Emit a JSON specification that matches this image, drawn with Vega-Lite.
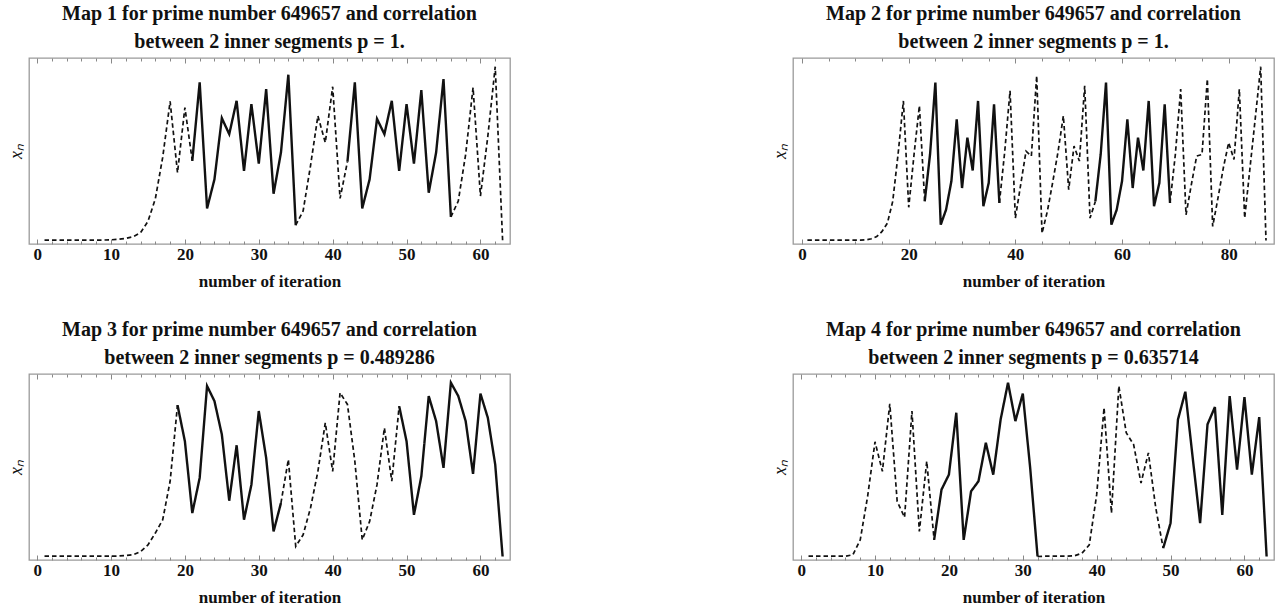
{
  "$schema": "https://vega.github.io/schema/vega-lite/v6.json",
  "padding": {"left": 6, "top": 2, "right": 4, "bottom": 0},
  "background": "white",
  "columns": 2,
  "spacing": {"row": 28, "column": 259},
  "datasets": {
    "m1": [
      {"n":1,"v":0.002,"s":1,"k":"dashed"},{"n":2,"v":0.002,"s":1,"k":"dashed"},{"n":3,"v":0.002,"s":1,"k":"dashed"},{"n":4,"v":0.002,"s":1,"k":"dashed"},{"n":5,"v":0.002,"s":1,"k":"dashed"},{"n":6,"v":0.002,"s":1,"k":"dashed"},{"n":7,"v":0.002,"s":1,"k":"dashed"},{"n":8,"v":0.002,"s":1,"k":"dashed"},{"n":9,"v":0.003,"s":1,"k":"dashed"},{"n":10,"v":0.004,"s":1,"k":"dashed"},{"n":11,"v":0.007,"s":1,"k":"dashed"},{"n":12,"v":0.012,"s":1,"k":"dashed"},{"n":13,"v":0.022,"s":1,"k":"dashed"},{"n":14,"v":0.045,"s":1,"k":"dashed"},{"n":15,"v":0.11,"s":1,"k":"dashed"},{"n":16,"v":0.24,"s":1,"k":"dashed"},{"n":17,"v":0.48,"s":1,"k":"dashed"},{"n":18,"v":0.8,"s":1,"k":"dashed"},{"n":19,"v":0.39,"s":1,"k":"dashed"},{"n":20,"v":0.765,"s":1,"k":"dashed"},{"n":21,"v":0.458,"s":1,"k":"dashed"},
      {"n":21,"v":0.458,"s":2,"k":"solid"},{"n":22,"v":0.91,"s":2,"k":"solid"},{"n":23,"v":0.185,"s":2,"k":"solid"},{"n":24,"v":0.352,"s":2,"k":"solid"},{"n":25,"v":0.704,"s":2,"k":"solid"},{"n":26,"v":0.612,"s":2,"k":"solid"},{"n":27,"v":0.804,"s":2,"k":"solid"},{"n":28,"v":0.4,"s":2,"k":"solid"},{"n":29,"v":0.785,"s":2,"k":"solid"},{"n":30,"v":0.442,"s":2,"k":"solid"},{"n":31,"v":0.871,"s":2,"k":"solid"},{"n":32,"v":0.269,"s":2,"k":"solid"},{"n":33,"v":0.506,"s":2,"k":"solid"},{"n":34,"v":0.954,"s":2,"k":"solid"},{"n":35,"v":0.088,"s":2,"k":"solid"},
      {"n":35,"v":0.088,"s":3,"k":"dashed"},{"n":36,"v":0.17,"s":3,"k":"dashed"},{"n":37,"v":0.43,"s":3,"k":"dashed"},{"n":38,"v":0.717,"s":3,"k":"dashed"},{"n":39,"v":0.563,"s":3,"k":"dashed"},{"n":40,"v":0.885,"s":3,"k":"dashed"},{"n":41,"v":0.242,"s":3,"k":"dashed"},{"n":42,"v":0.454,"s":3,"k":"dashed"},
      {"n":42,"v":0.454,"s":4,"k":"solid"},{"n":43,"v":0.91,"s":4,"k":"solid"},{"n":44,"v":0.185,"s":4,"k":"solid"},{"n":45,"v":0.352,"s":4,"k":"solid"},{"n":46,"v":0.7,"s":4,"k":"solid"},{"n":47,"v":0.612,"s":4,"k":"solid"},{"n":48,"v":0.804,"s":4,"k":"solid"},{"n":49,"v":0.4,"s":4,"k":"solid"},{"n":50,"v":0.785,"s":4,"k":"solid"},{"n":51,"v":0.442,"s":4,"k":"solid"},{"n":52,"v":0.865,"s":4,"k":"solid"},{"n":53,"v":0.275,"s":4,"k":"solid"},{"n":54,"v":0.506,"s":4,"k":"solid"},{"n":55,"v":0.929,"s":4,"k":"solid"},{"n":56,"v":0.136,"s":4,"k":"solid"},
      {"n":56,"v":0.136,"s":5,"k":"dashed"},{"n":57,"v":0.227,"s":5,"k":"dashed"},{"n":58,"v":0.496,"s":5,"k":"dashed"},{"n":59,"v":0.88,"s":5,"k":"dashed"},{"n":60,"v":0.256,"s":5,"k":"dashed"},{"n":61,"v":0.6,"s":5,"k":"dashed"},{"n":62,"v":1.0,"s":5,"k":"dashed"},{"n":63,"v":0.0,"s":5,"k":"dashed"}
    ],
    "m2": [
      {"n":1,"v":0.002,"s":1,"k":"dashed"},{"n":2,"v":0.002,"s":1,"k":"dashed"},{"n":3,"v":0.002,"s":1,"k":"dashed"},{"n":4,"v":0.002,"s":1,"k":"dashed"},{"n":5,"v":0.002,"s":1,"k":"dashed"},{"n":6,"v":0.002,"s":1,"k":"dashed"},{"n":7,"v":0.002,"s":1,"k":"dashed"},{"n":8,"v":0.002,"s":1,"k":"dashed"},{"n":9,"v":0.002,"s":1,"k":"dashed"},{"n":10,"v":0.002,"s":1,"k":"dashed"},{"n":11,"v":0.002,"s":1,"k":"dashed"},{"n":12,"v":0.004,"s":1,"k":"dashed"},{"n":13,"v":0.01,"s":1,"k":"dashed"},{"n":14,"v":0.023,"s":1,"k":"dashed"},{"n":15,"v":0.052,"s":1,"k":"dashed"},{"n":16,"v":0.1,"s":1,"k":"dashed"},{"n":17,"v":0.225,"s":1,"k":"dashed"},{"n":18,"v":0.495,"s":1,"k":"dashed"},{"n":19,"v":0.803,"s":1,"k":"dashed"},{"n":20,"v":0.191,"s":1,"k":"dashed"},{"n":21,"v":0.495,"s":1,"k":"dashed"},{"n":22,"v":0.775,"s":1,"k":"dashed"},{"n":23,"v":0.225,"s":1,"k":"dashed"},
      {"n":23,"v":0.225,"s":2,"k":"solid"},{"n":24,"v":0.495,"s":2,"k":"solid"},{"n":25,"v":0.909,"s":2,"k":"solid"},{"n":26,"v":0.091,"s":2,"k":"solid"},{"n":27,"v":0.177,"s":2,"k":"solid"},{"n":28,"v":0.341,"s":2,"k":"solid"},{"n":29,"v":0.697,"s":2,"k":"solid"},{"n":30,"v":0.302,"s":2,"k":"solid"},{"n":31,"v":0.592,"s":2,"k":"solid"},{"n":32,"v":0.403,"s":2,"k":"solid"},{"n":33,"v":0.803,"s":2,"k":"solid"},{"n":34,"v":0.197,"s":2,"k":"solid"},{"n":35,"v":0.331,"s":2,"k":"solid"},{"n":36,"v":0.784,"s":2,"k":"solid"},{"n":37,"v":0.216,"s":2,"k":"solid"},
      {"n":37,"v":0.216,"s":3,"k":"dashed"},{"n":38,"v":0.51,"s":3,"k":"dashed"},{"n":39,"v":0.861,"s":3,"k":"dashed"},{"n":40,"v":0.129,"s":3,"k":"dashed"},{"n":41,"v":0.322,"s":3,"k":"dashed"},{"n":42,"v":0.514,"s":3,"k":"dashed"},{"n":43,"v":0.486,"s":3,"k":"dashed"},{"n":44,"v":0.948,"s":3,"k":"dashed"},{"n":45,"v":0.042,"s":3,"k":"dashed"},{"n":46,"v":0.168,"s":3,"k":"dashed"},{"n":47,"v":0.335,"s":3,"k":"dashed"},{"n":48,"v":0.51,"s":3,"k":"dashed"},{"n":49,"v":0.717,"s":3,"k":"dashed"},{"n":50,"v":0.293,"s":3,"k":"dashed"},{"n":51,"v":0.543,"s":3,"k":"dashed"},{"n":52,"v":0.457,"s":3,"k":"dashed"},{"n":53,"v":0.89,"s":3,"k":"dashed"},{"n":54,"v":0.129,"s":3,"k":"dashed"},{"n":55,"v":0.225,"s":3,"k":"dashed"},
      {"n":55,"v":0.225,"s":4,"k":"solid"},{"n":56,"v":0.495,"s":4,"k":"solid"},{"n":57,"v":0.909,"s":4,"k":"solid"},{"n":58,"v":0.091,"s":4,"k":"solid"},{"n":59,"v":0.177,"s":4,"k":"solid"},{"n":60,"v":0.341,"s":4,"k":"solid"},{"n":61,"v":0.697,"s":4,"k":"solid"},{"n":62,"v":0.302,"s":4,"k":"solid"},{"n":63,"v":0.592,"s":4,"k":"solid"},{"n":64,"v":0.403,"s":4,"k":"solid"},{"n":65,"v":0.803,"s":4,"k":"solid"},{"n":66,"v":0.197,"s":4,"k":"solid"},{"n":67,"v":0.331,"s":4,"k":"solid"},{"n":68,"v":0.784,"s":4,"k":"solid"},{"n":69,"v":0.216,"s":4,"k":"solid"},
      {"n":69,"v":0.216,"s":5,"k":"dashed"},{"n":70,"v":0.495,"s":5,"k":"dashed"},{"n":71,"v":0.871,"s":5,"k":"dashed"},{"n":72,"v":0.148,"s":5,"k":"dashed"},{"n":73,"v":0.322,"s":5,"k":"dashed"},{"n":74,"v":0.486,"s":5,"k":"dashed"},{"n":75,"v":0.495,"s":5,"k":"dashed"},{"n":76,"v":0.929,"s":5,"k":"dashed"},{"n":77,"v":0.081,"s":5,"k":"dashed"},{"n":78,"v":0.245,"s":5,"k":"dashed"},{"n":79,"v":0.418,"s":5,"k":"dashed"},{"n":80,"v":0.563,"s":5,"k":"dashed"},{"n":81,"v":0.466,"s":5,"k":"dashed"},{"n":82,"v":0.871,"s":5,"k":"dashed"},{"n":83,"v":0.129,"s":5,"k":"dashed"},{"n":84,"v":0.418,"s":5,"k":"dashed"},{"n":85,"v":0.707,"s":5,"k":"dashed"},{"n":86,"v":1.0,"s":5,"k":"dashed"},{"n":87,"v":0.0,"s":5,"k":"dashed"}
    ],
    "m3": [
      {"n":1,"v":0.002,"s":1,"k":"dashed"},{"n":2,"v":0.002,"s":1,"k":"dashed"},{"n":3,"v":0.002,"s":1,"k":"dashed"},{"n":4,"v":0.002,"s":1,"k":"dashed"},{"n":5,"v":0.002,"s":1,"k":"dashed"},{"n":6,"v":0.002,"s":1,"k":"dashed"},{"n":7,"v":0.002,"s":1,"k":"dashed"},{"n":8,"v":0.002,"s":1,"k":"dashed"},{"n":9,"v":0.002,"s":1,"k":"dashed"},{"n":10,"v":0.002,"s":1,"k":"dashed"},{"n":11,"v":0.003,"s":1,"k":"dashed"},{"n":12,"v":0.006,"s":1,"k":"dashed"},{"n":13,"v":0.01,"s":1,"k":"dashed"},{"n":14,"v":0.029,"s":1,"k":"dashed"},{"n":15,"v":0.067,"s":1,"k":"dashed"},{"n":16,"v":0.135,"s":1,"k":"dashed"},{"n":17,"v":0.212,"s":1,"k":"dashed"},{"n":18,"v":0.433,"s":1,"k":"dashed"},{"n":19,"v":0.871,"s":1,"k":"dashed"},
      {"n":19,"v":0.871,"s":2,"k":"solid"},{"n":20,"v":0.663,"s":2,"k":"solid"},{"n":21,"v":0.25,"s":2,"k":"solid"},{"n":22,"v":0.452,"s":2,"k":"solid"},{"n":23,"v":0.981,"s":2,"k":"solid"},{"n":24,"v":0.894,"s":2,"k":"solid"},{"n":25,"v":0.702,"s":2,"k":"solid"},{"n":26,"v":0.321,"s":2,"k":"solid"},{"n":27,"v":0.64,"s":2,"k":"solid"},{"n":28,"v":0.212,"s":2,"k":"solid"},{"n":29,"v":0.413,"s":2,"k":"solid"},{"n":30,"v":0.837,"s":2,"k":"solid"},{"n":31,"v":0.567,"s":2,"k":"solid"},{"n":32,"v":0.144,"s":2,"k":"solid"},{"n":33,"v":0.308,"s":2,"k":"solid"},
      {"n":33,"v":0.308,"s":3,"k":"dashed"},{"n":34,"v":0.558,"s":3,"k":"dashed"},{"n":35,"v":0.058,"s":3,"k":"dashed"},{"n":36,"v":0.125,"s":3,"k":"dashed"},{"n":37,"v":0.279,"s":3,"k":"dashed"},{"n":38,"v":0.49,"s":3,"k":"dashed"},{"n":39,"v":0.769,"s":3,"k":"dashed"},{"n":40,"v":0.49,"s":3,"k":"dashed"},{"n":41,"v":0.942,"s":3,"k":"dashed"},{"n":42,"v":0.875,"s":3,"k":"dashed"},{"n":43,"v":0.548,"s":3,"k":"dashed"},{"n":44,"v":0.096,"s":3,"k":"dashed"},{"n":45,"v":0.202,"s":3,"k":"dashed"},{"n":46,"v":0.413,"s":3,"k":"dashed"},{"n":47,"v":0.74,"s":3,"k":"dashed"},{"n":48,"v":0.433,"s":3,"k":"dashed"},{"n":49,"v":0.865,"s":3,"k":"dashed"},
      {"n":49,"v":0.865,"s":4,"k":"solid"},{"n":50,"v":0.663,"s":4,"k":"solid"},{"n":51,"v":0.24,"s":4,"k":"solid"},{"n":52,"v":0.462,"s":4,"k":"solid"},{"n":53,"v":0.923,"s":4,"k":"solid"},{"n":54,"v":0.779,"s":4,"k":"solid"},{"n":55,"v":0.51,"s":4,"k":"solid"},{"n":56,"v":1.0,"s":4,"k":"solid"},{"n":57,"v":0.923,"s":4,"k":"solid"},{"n":58,"v":0.779,"s":4,"k":"solid"},{"n":59,"v":0.475,"s":4,"k":"solid"},{"n":60,"v":0.937,"s":4,"k":"solid"},{"n":61,"v":0.798,"s":4,"k":"solid"},{"n":62,"v":0.529,"s":4,"k":"solid"},{"n":63,"v":0.0,"s":4,"k":"solid"}
    ],
    "m4": [
      {"n":1,"v":0.002,"s":1,"k":"dashed"},{"n":2,"v":0.002,"s":1,"k":"dashed"},{"n":3,"v":0.002,"s":1,"k":"dashed"},{"n":4,"v":0.002,"s":1,"k":"dashed"},{"n":5,"v":0.002,"s":1,"k":"dashed"},{"n":6,"v":0.002,"s":1,"k":"dashed"},{"n":7,"v":0.01,"s":1,"k":"dashed"},{"n":8,"v":0.096,"s":1,"k":"dashed"},{"n":9,"v":0.346,"s":1,"k":"dashed"},{"n":10,"v":0.66,"s":1,"k":"dashed"},{"n":11,"v":0.49,"s":1,"k":"dashed"},{"n":12,"v":0.879,"s":1,"k":"dashed"},{"n":13,"v":0.317,"s":1,"k":"dashed"},{"n":14,"v":0.225,"s":1,"k":"dashed"},{"n":15,"v":0.837,"s":1,"k":"dashed"},{"n":16,"v":0.144,"s":1,"k":"dashed"},{"n":17,"v":0.548,"s":1,"k":"dashed"},{"n":18,"v":0.096,"s":1,"k":"dashed"},
      {"n":18,"v":0.096,"s":2,"k":"solid"},{"n":19,"v":0.385,"s":2,"k":"solid"},{"n":20,"v":0.471,"s":2,"k":"solid"},{"n":21,"v":0.827,"s":2,"k":"solid"},{"n":22,"v":0.096,"s":2,"k":"solid"},{"n":23,"v":0.375,"s":2,"k":"solid"},{"n":24,"v":0.433,"s":2,"k":"solid"},{"n":25,"v":0.654,"s":2,"k":"solid"},{"n":26,"v":0.471,"s":2,"k":"solid"},{"n":27,"v":0.788,"s":2,"k":"solid"},{"n":28,"v":1.0,"s":2,"k":"solid"},{"n":29,"v":0.779,"s":2,"k":"solid"},{"n":30,"v":0.937,"s":2,"k":"solid"},{"n":31,"v":0.51,"s":2,"k":"solid"},{"n":32,"v":0.0,"s":2,"k":"solid"},
      {"n":32,"v":0.0,"s":3,"k":"dashed"},{"n":33,"v":0.002,"s":3,"k":"dashed"},{"n":34,"v":0.002,"s":3,"k":"dashed"},{"n":35,"v":0.002,"s":3,"k":"dashed"},{"n":36,"v":0.002,"s":3,"k":"dashed"},{"n":37,"v":0.004,"s":3,"k":"dashed"},{"n":38,"v":0.019,"s":3,"k":"dashed"},{"n":39,"v":0.067,"s":3,"k":"dashed"},{"n":40,"v":0.356,"s":3,"k":"dashed"},{"n":41,"v":0.856,"s":3,"k":"dashed"},{"n":42,"v":0.25,"s":3,"k":"dashed"},{"n":43,"v":0.981,"s":3,"k":"dashed"},{"n":44,"v":0.712,"s":3,"k":"dashed"},{"n":45,"v":0.644,"s":3,"k":"dashed"},{"n":46,"v":0.423,"s":3,"k":"dashed"},{"n":47,"v":0.596,"s":3,"k":"dashed"},{"n":48,"v":0.279,"s":3,"k":"dashed"},{"n":49,"v":0.048,"s":3,"k":"dashed"},
      {"n":49,"v":0.048,"s":4,"k":"solid"},{"n":50,"v":0.192,"s":4,"k":"solid"},{"n":51,"v":0.788,"s":4,"k":"solid"},{"n":52,"v":0.948,"s":4,"k":"solid"},{"n":53,"v":0.567,"s":4,"k":"solid"},{"n":54,"v":0.192,"s":4,"k":"solid"},{"n":55,"v":0.76,"s":4,"k":"solid"},{"n":56,"v":0.86,"s":4,"k":"solid"},{"n":57,"v":0.24,"s":4,"k":"solid"},{"n":58,"v":0.923,"s":4,"k":"solid"},{"n":59,"v":0.5,"s":4,"k":"solid"},{"n":60,"v":0.917,"s":4,"k":"solid"},{"n":61,"v":0.471,"s":4,"k":"solid"},{"n":62,"v":0.802,"s":4,"k":"solid"},{"n":63,"v":0.0,"s":4,"k":"solid"}
    ]
  },
  "concat": [
    {
      "width": 481, "height": 186,
      "title": {"text": ["Map 1 for prime number 649657 and correlation", "between 2 inner segments p = 1."]},
      "data": {"name": "m1"},
      "layer": [
        {
          "mark": {"type": "line", "color": "#111"},
          "encoding": {
            "x": {"field": "n", "type": "quantitative", "scale": {"domain": [-1.1, 64], "nice": false, "zero": false},
                  "axis": {"orient": "bottom", "title": "number of iteration", "values": [0,2,4,6,8,10,12,14,16,18,20,22,24,26,28,30,32,34,36,38,40,42,44,46,48,50,52,54,56,58,60,62],
                           "labelExpr": "datum.value % 10 === 0 ? datum.label : ''",
                           "tickSize": {"condition": {"test": "datum.value % 10 === 0", "value": -5}, "value": -3}}},
            "y": {"field": "v", "type": "quantitative", "scale": {"domain": [-0.02, 1.05], "nice": false, "zero": false},
                  "axis": {"title": "xₙ", "labels": false, "ticks": false}},
            "detail": {"field": "s"},
            "strokeDash": {"field": "k", "type": "nominal", "scale": {"domain": ["dashed", "solid"], "range": [[4.5, 3], [1, 0]]}, "legend": null},
            "strokeWidth": {"field": "k", "type": "nominal", "scale": {"domain": ["dashed", "solid"], "range": [1.7, 2.4]}, "legend": null}
          }
        },
        {
          "mark": {"type": "point", "opacity": 0},
          "encoding": {
            "x": {"field": "n", "type": "quantitative",
                  "axis": {"orient": "top", "title": null, "labels": false, "values": [0,2,4,6,8,10,12,14,16,18,20,22,24,26,28,30,32,34,36,38,40,42,44,46,48,50,52,54,56,58,60,62],
                           "tickSize": {"condition": {"test": "datum.value % 10 === 0", "value": -5}, "value": -3}}}
          }
        }
      ],
      "resolve": {"axis": {"x": "independent"}}
    },
    {
      "width": 481, "height": 186,
      "title": {"text": ["Map 2 for prime number 649657 and correlation", "between 2 inner segments p = 1."]},
      "data": {"name": "m2"},
      "layer": [
        {
          "mark": {"type": "line", "color": "#111"},
          "encoding": {
            "x": {"field": "n", "type": "quantitative", "scale": {"domain": [-1.7, 88.5], "nice": false, "zero": false},
                  "axis": {"orient": "bottom", "title": "number of iteration", "values": [0,5,10,15,20,25,30,35,40,45,50,55,60,65,70,75,80,85],
                           "labelExpr": "datum.value % 20 === 0 ? datum.label : ''",
                           "tickSize": {"condition": {"test": "datum.value % 20 === 0", "value": -5}, "value": -3}}},
            "y": {"field": "v", "type": "quantitative", "scale": {"domain": [-0.02, 1.05], "nice": false, "zero": false},
                  "axis": {"title": "xₙ", "labels": false, "ticks": false}},
            "detail": {"field": "s"},
            "strokeDash": {"field": "k", "type": "nominal", "scale": {"domain": ["dashed", "solid"], "range": [[4.5, 3], [1, 0]]}, "legend": null},
            "strokeWidth": {"field": "k", "type": "nominal", "scale": {"domain": ["dashed", "solid"], "range": [1.7, 2.4]}, "legend": null}
          }
        },
        {
          "mark": {"type": "point", "opacity": 0},
          "encoding": {
            "x": {"field": "n", "type": "quantitative",
                  "axis": {"orient": "top", "title": null, "labels": false, "values": [0,5,10,15,20,25,30,35,40,45,50,55,60,65,70,75,80,85],
                           "tickSize": {"condition": {"test": "datum.value % 20 === 0", "value": -5}, "value": -3}}}
          }
        }
      ],
      "resolve": {"axis": {"x": "independent"}}
    },
    {
      "width": 481, "height": 186,
      "title": {"text": ["Map 3 for prime number 649657 and correlation", "between 2 inner segments p = 0.489286"]},
      "data": {"name": "m3"},
      "layer": [
        {
          "mark": {"type": "line", "color": "#111"},
          "encoding": {
            "x": {"field": "n", "type": "quantitative", "scale": {"domain": [-1.1, 64], "nice": false, "zero": false},
                  "axis": {"orient": "bottom", "title": "number of iteration", "values": [0,2,4,6,8,10,12,14,16,18,20,22,24,26,28,30,32,34,36,38,40,42,44,46,48,50,52,54,56,58,60,62],
                           "labelExpr": "datum.value % 10 === 0 ? datum.label : ''",
                           "tickSize": {"condition": {"test": "datum.value % 10 === 0", "value": -5}, "value": -3}}},
            "y": {"field": "v", "type": "quantitative", "scale": {"domain": [-0.02, 1.05], "nice": false, "zero": false},
                  "axis": {"title": "xₙ", "labels": false, "ticks": false}},
            "detail": {"field": "s"},
            "strokeDash": {"field": "k", "type": "nominal", "scale": {"domain": ["dashed", "solid"], "range": [[4.5, 3], [1, 0]]}, "legend": null},
            "strokeWidth": {"field": "k", "type": "nominal", "scale": {"domain": ["dashed", "solid"], "range": [1.7, 2.4]}, "legend": null}
          }
        },
        {
          "mark": {"type": "point", "opacity": 0},
          "encoding": {
            "x": {"field": "n", "type": "quantitative",
                  "axis": {"orient": "top", "title": null, "labels": false, "values": [0,2,4,6,8,10,12,14,16,18,20,22,24,26,28,30,32,34,36,38,40,42,44,46,48,50,52,54,56,58,60,62],
                           "tickSize": {"condition": {"test": "datum.value % 10 === 0", "value": -5}, "value": -3}}}
          }
        }
      ],
      "resolve": {"axis": {"x": "independent"}}
    },
    {
      "width": 481, "height": 186,
      "title": {"text": ["Map 4 for prime number 649657 and correlation", "between 2 inner segments p = 0.635714"]},
      "data": {"name": "m4"},
      "layer": [
        {
          "mark": {"type": "line", "color": "#111"},
          "encoding": {
            "x": {"field": "n", "type": "quantitative", "scale": {"domain": [-1.1, 64], "nice": false, "zero": false},
                  "axis": {"orient": "bottom", "title": "number of iteration", "values": [0,2,4,6,8,10,12,14,16,18,20,22,24,26,28,30,32,34,36,38,40,42,44,46,48,50,52,54,56,58,60,62],
                           "labelExpr": "datum.value % 10 === 0 ? datum.label : ''",
                           "tickSize": {"condition": {"test": "datum.value % 10 === 0", "value": -5}, "value": -3}}},
            "y": {"field": "v", "type": "quantitative", "scale": {"domain": [-0.02, 1.05], "nice": false, "zero": false},
                  "axis": {"title": "xₙ", "labels": false, "ticks": false}},
            "detail": {"field": "s"},
            "strokeDash": {"field": "k", "type": "nominal", "scale": {"domain": ["dashed", "solid"], "range": [[4.5, 3], [1, 0]]}, "legend": null},
            "strokeWidth": {"field": "k", "type": "nominal", "scale": {"domain": ["dashed", "solid"], "range": [1.7, 2.4]}, "legend": null}
          }
        },
        {
          "mark": {"type": "point", "opacity": 0},
          "encoding": {
            "x": {"field": "n", "type": "quantitative",
                  "axis": {"orient": "top", "title": null, "labels": false, "values": [0,2,4,6,8,10,12,14,16,18,20,22,24,26,28,30,32,34,36,38,40,42,44,46,48,50,52,54,56,58,60,62],
                           "tickSize": {"condition": {"test": "datum.value % 10 === 0", "value": -5}, "value": -3}}}
          }
        }
      ],
      "resolve": {"axis": {"x": "independent"}}
    }
  ],
  "config": {
    "view": {"stroke": "#9a9a9a", "strokeWidth": 1.3},
    "axis": {"grid": false, "domain": false, "labelOverlap": false, "labelFont": "Liberation Serif", "labelFontWeight": "bold", "labelFontSize": 17, "labelColor": "#111", "labelPadding": 7,
             "titleFont": "Liberation Serif", "titleFontWeight": "bold", "titleFontSize": 17, "titleColor": "#111", "titlePadding": 9, "tickColor": "#888", "tickWidth": 1},
    "axisY": {"titleFontStyle": "italic", "titleFontWeight": "normal", "titleFontSize": 18, "titlePadding": 4},
    "title": {"font": "Liberation Serif", "fontSize": 20, "fontWeight": "bold", "color": "#111", "lineHeight": 28, "anchor": "middle", "frame": "group", "offset": 6}
  }
}
